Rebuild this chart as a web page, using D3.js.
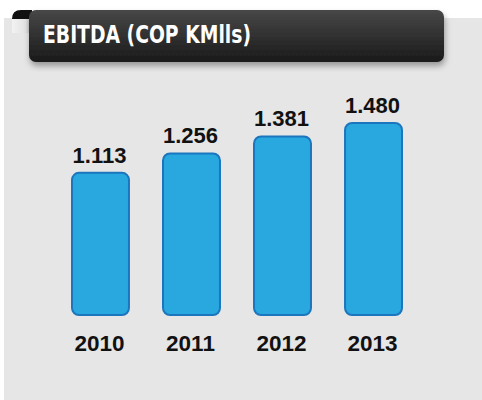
<!DOCTYPE html>
<html>
<head>
<meta charset="utf-8">
<script src="https://cdn.jsdelivr.net/npm/d3@7"></script>
<style>
  body { margin: 0; background: #fff; }
</style>
</head>
<body>
<div id="chart"></div>
<script>
const years = ["2010", "2011", "2012", "2013"];
const ebitda = [1113, 1256, 1381, 1480];
const valueLabels = ["1.113", "1.256", "1.381", "1.480"];
const title = "EBITDA (COP KMlls)";

const width = 482, height = 400;
const baseY = 315;

const svg = d3.select("#chart").append("svg")
  .attr("width", width)
  .attr("height", height);

const defs = svg.append("defs");
const grad = defs.append("linearGradient")
  .attr("id", "titleGrad")
  .attr("x1", 0).attr("y1", 0).attr("x2", 0).attr("y2", 1);
grad.append("stop").attr("offset", "0%").attr("stop-color", "#474747");
grad.append("stop").attr("offset", "100%").attr("stop-color", "#1a1a1a");

const fold = defs.append("linearGradient")
  .attr("id", "foldGrad")
  .attr("x1", 0).attr("y1", 0).attr("x2", 1).attr("y2", 0);
fold.append("stop").attr("offset", "0%").attr("stop-color", "#f2f2f2");
fold.append("stop").attr("offset", "80%").attr("stop-color", "#e2e2e2");
fold.append("stop").attr("offset", "100%").attr("stop-color", "#cfcfcf");

const shadow = defs.append("filter")
  .attr("id", "shadow")
  .attr("x", "-10%").attr("y", "-20%").attr("width", "120%").attr("height", "160%");
shadow.append("feDropShadow")
  .attr("dx", 1).attr("dy", 4).attr("stdDeviation", 3)
  .attr("flood-color", "#000").attr("flood-opacity", 0.35);

// gray panel
svg.append("rect")
  .attr("x", 4).attr("y", 18)
  .attr("width", width - 4).attr("height", height - 18)
  .attr("fill", "#e6e6e6");

// folded corner of the title ribbon
svg.append("rect")
  .attr("x", 12).attr("y", 18)
  .attr("width", 17).attr("height", 15)
  .attr("fill", "url(#foldGrad)");
svg.append("path")
  .attr("d", "M12,19 Q12,10 21,10 L32,10 L32,19 Z")
  .attr("fill", "#111");

// title ribbon
svg.append("rect")
  .attr("x", 29).attr("y", 10)
  .attr("width", 415).attr("height", 52)
  .attr("rx", 7)
  .attr("fill", "url(#titleGrad)")
  .attr("filter", "url(#shadow)");

svg.append("text")
  .attr("x", 43).attr("y", 43)
  .attr("fill", "#fff")
  .attr("textLength", 208)
  .attr("lengthAdjust", "spacingAndGlyphs")
  .style("font-family", "'Liberation Sans Narrow', 'DejaVu Sans Condensed', sans-serif")
  .style("font-weight", "bold")
  .style("font-size", "24px")
  .text(title);

const x = d3.scaleBand()
  .domain(years)
  .range([72, 402])
  .paddingInner(0.374)
  .paddingOuter(0);

const y = d3.scaleLinear()
  .domain([65, 1480])
  .range([baseY, 123]);

const data = years.map((yr, i) => ({ year: yr, value: ebitda[i], label: valueLabels[i] }));

svg.selectAll("rect.bar")
  .data(data)
  .enter()
  .append("rect")
  .attr("class", "bar")
  .attr("x", d => x(d.year))
  .attr("y", d => y(d.value))
  .attr("width", x.bandwidth())
  .attr("height", d => baseY - y(d.value))
  .attr("rx", 7)
  .attr("fill", "#29a8e0")
  .attr("stroke", "#1b76bd")
  .attr("stroke-width", 2);

svg.selectAll("text.value")
  .data(data)
  .enter()
  .append("text")
  .attr("class", "value")
  .attr("x", d => x(d.year) + x.bandwidth() / 2 - 1)
  .attr("y", d => y(d.value) - 10)
  .attr("text-anchor", "middle")
  .style("font-family", "'Liberation Sans', Arial, sans-serif")
  .style("font-weight", "bold")
  .style("font-size", "22px")
  .style("fill", "#111")
  .text(d => d.label);

svg.selectAll("text.year")
  .data(data)
  .enter()
  .append("text")
  .attr("class", "year")
  .attr("x", d => x(d.year) + x.bandwidth() / 2 - 1)
  .attr("y", 351)
  .attr("text-anchor", "middle")
  .style("font-family", "'Liberation Sans', Arial, sans-serif")
  .style("font-weight", "bold")
  .style("font-size", "22.5px")
  .style("fill", "#111")
  .text(d => d.year);
</script>
</body>
</html>
